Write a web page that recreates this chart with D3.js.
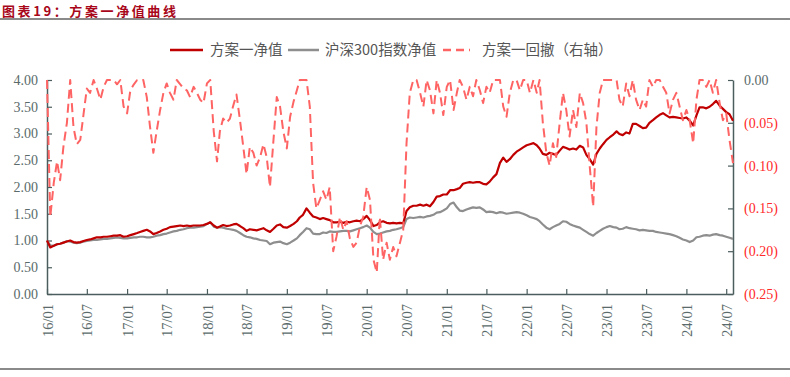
<!DOCTYPE html>
<html>
<head>
<meta charset="utf-8">
<script src="https://cdn.jsdelivr.net/npm/d3@7"></script>
<style>
  html, body { margin: 0; padding: 0; background: #fff; }
  svg { display: block; }
</style>
</head>
<body>
<svg id="chart"></svg>
<script>
// semi-monthly samples, 1st and 16th of each month, 2016/01/01 .. 2024/08/01
const navPlan = [
  1.00, 0.87, 0.90, 0.93, 0.94, 0.96, 0.98, 1.00, 0.97, 0.96, 0.97, 0.99,
  1.01, 1.02, 1.04, 1.06, 1.06, 1.07, 1.07, 1.08, 1.09, 1.09, 1.10, 1.07,
  1.08, 1.10, 1.12, 1.14, 1.16, 1.18, 1.20, 1.17, 1.12, 1.14, 1.17, 1.20,
  1.22, 1.25, 1.26, 1.27, 1.28, 1.27, 1.28, 1.27, 1.28, 1.28, 1.28, 1.29,
  1.31, 1.34, 1.28, 1.24, 1.26, 1.29, 1.27, 1.28, 1.30, 1.31, 1.27, 1.23,
  1.18, 1.21, 1.20, 1.19, 1.21, 1.23, 1.19, 1.16, 1.22, 1.28, 1.30, 1.25,
  1.24, 1.27, 1.31, 1.36, 1.43, 1.48, 1.60, 1.52, 1.45, 1.43, 1.40, 1.42,
  1.40, 1.38, 1.34, 1.34, 1.35, 1.33, 1.35, 1.34, 1.36, 1.37, 1.36, 1.40,
  1.46, 1.38, 1.27, 1.29, 1.34, 1.36, 1.33, 1.32, 1.33, 1.32, 1.33, 1.32,
  1.55, 1.62, 1.65, 1.65, 1.67, 1.65, 1.67, 1.64, 1.72, 1.82, 1.83, 1.86,
  1.86, 1.94, 1.94, 1.96, 1.98, 2.06, 2.08, 2.09, 2.08, 2.09, 2.09, 2.06,
  2.05, 2.10, 2.18, 2.24, 2.45, 2.55, 2.47, 2.52, 2.60, 2.66, 2.70, 2.74,
  2.78, 2.80, 2.82, 2.78, 2.72, 2.62, 2.60, 2.64, 2.62, 2.60, 2.68, 2.75,
  2.73, 2.70, 2.72, 2.70, 2.77, 2.74, 2.60, 2.52, 2.42, 2.62, 2.72, 2.80,
  2.88, 2.93, 2.98, 3.04, 2.99, 2.97, 3.02, 3.00, 3.18, 3.18, 3.14, 3.10,
  3.11, 3.20, 3.25, 3.30, 3.35, 3.38, 3.34, 3.30, 3.31, 3.30, 3.29, 3.28,
  3.30, 3.24, 3.15, 3.34, 3.49, 3.49, 3.47, 3.50, 3.55, 3.61, 3.52, 3.46,
  3.40, 3.36, 3.24
];

const navHs300 = [
  1.00, 0.91, 0.90, 0.93, 0.94, 0.96, 0.99, 0.98, 0.96, 0.95, 0.96, 0.98,
  0.99, 1.00, 1.01, 1.01, 1.02, 1.03, 1.03, 1.04, 1.05, 1.06, 1.05, 1.04,
  1.04, 1.05, 1.06, 1.06, 1.07, 1.07, 1.06, 1.06, 1.07, 1.09, 1.10, 1.12,
  1.13, 1.15, 1.17, 1.18, 1.20, 1.21, 1.23, 1.24, 1.24, 1.25, 1.26, 1.27,
  1.31, 1.34, 1.26, 1.24, 1.25, 1.24, 1.22, 1.21, 1.20, 1.18, 1.14, 1.10,
  1.07, 1.06, 1.04, 1.03, 1.01, 1.00, 0.99, 0.93, 0.96, 0.97, 0.98, 0.95,
  0.93, 0.96, 1.00, 1.04, 1.10, 1.16, 1.23, 1.21, 1.13, 1.12, 1.12, 1.15,
  1.14, 1.17, 1.16, 1.16, 1.17, 1.18, 1.18, 1.17, 1.19, 1.21, 1.23, 1.25,
  1.28, 1.24, 1.16, 1.12, 1.13, 1.15, 1.17, 1.18, 1.20, 1.21, 1.23, 1.25,
  1.40, 1.43, 1.42, 1.43, 1.44, 1.43, 1.45, 1.46, 1.48, 1.52, 1.53, 1.56,
  1.60, 1.68, 1.71, 1.62, 1.56, 1.55, 1.58, 1.60, 1.62, 1.61, 1.62, 1.58,
  1.53, 1.54, 1.53, 1.51, 1.53, 1.52, 1.50, 1.51, 1.52, 1.53, 1.52, 1.50,
  1.47, 1.44, 1.42, 1.40, 1.36, 1.30, 1.24, 1.21, 1.25, 1.28, 1.31, 1.36,
  1.35, 1.31, 1.28, 1.26, 1.24, 1.20, 1.16, 1.12, 1.09, 1.14, 1.18, 1.22,
  1.25, 1.27, 1.25, 1.24, 1.21, 1.22, 1.25, 1.23, 1.22, 1.21, 1.19, 1.20,
  1.19, 1.18, 1.18, 1.16, 1.15, 1.14, 1.13, 1.12, 1.10, 1.08, 1.05, 1.02,
  1.00, 0.97, 1.00, 1.06, 1.07, 1.09, 1.10, 1.09, 1.11, 1.12, 1.10, 1.09,
  1.07, 1.05, 1.03
];

const drawdown = [
  0, -0.16, -0.12, -0.095, -0.117, -0.078, -0.05, 0, -0.055, -0.075, -0.07, -0.04,
  -0.01, -0.015, 0, -0.01, -0.023, -0.008, 0, 0, 0, -0.005, 0, -0.031,
  -0.039, -0.012, -0.005, 0, 0, 0, -0.02, -0.055, -0.085, -0.06, -0.035, -0.015,
  -0.004, -0.015, -0.023, 0, -0.005, -0.01, -0.012, -0.02, -0.008, -0.015, -0.023, -0.027,
  -0.004, 0, -0.06, -0.095, -0.06, -0.045, -0.05, -0.045, -0.03, -0.017, -0.047, -0.078,
  -0.11, -0.078, -0.085, -0.1, -0.09, -0.075, -0.09, -0.125, -0.07, -0.02, -0.031, -0.06,
  -0.08, -0.043, -0.025, -0.012, 0, 0, 0, -0.031, -0.12, -0.15, -0.14, -0.13,
  -0.14, -0.125, -0.2, -0.183, -0.16, -0.175, -0.165, -0.185, -0.195, -0.19, -0.171, -0.16,
  -0.125, -0.14, -0.21, -0.225, -0.16, -0.21, -0.19, -0.21, -0.195, -0.206, -0.19, -0.175,
  -0.074, -0.015, 0, 0, -0.015, -0.031, 0, -0.012, -0.039, 0, -0.015, -0.041,
  -0.008, 0, -0.035, -0.015, 0, -0.008, -0.023, -0.008, -0.019, 0, -0.012, -0.027,
  -0.008, -0.015, 0, 0, 0, -0.031, -0.043, -0.015, 0, 0, -0.012, 0,
  0, -0.015, 0, -0.015, 0, -0.05, -0.085, -0.1, -0.074, -0.09, -0.05, -0.015,
  -0.035, -0.066, -0.035, -0.055, -0.015, -0.027, -0.05, -0.1, -0.148, -0.055, -0.015, 0,
  0, 0, 0, 0, -0.023, -0.031, -0.004, -0.019, 0, -0.023, -0.035, -0.023,
  -0.031, 0, -0.008, 0, 0, -0.008, -0.015, -0.039, -0.023, -0.015, -0.031, -0.047,
  -0.035, -0.047, -0.074, -0.023, 0, 0, -0.008, 0, -0.015, 0, -0.027, -0.047,
  -0.039, -0.07, -0.097
];

const leftTicks = [0, 0.5, 1, 1.5, 2, 2.5, 3, 3.5, 4];
const rightTicks = [0, -0.05, -0.10, -0.15, -0.20, -0.25];
const seriesNames = ['方案一净值', '沪深300指数净值', '方案一回撤（右轴）'];
const titleText = '图表19：方案一净值曲线';

// dates for the samples
const dates = navPlan.map((_, k) => new Date(2016 + Math.floor(k / 24), Math.floor((k % 24) / 2), k % 2 ? 16 : 1));
const xTicks = d3.range(2016, 2025).flatMap(y => [new Date(y, 0, 1), new Date(y, 6, 1)]).filter(d => d <= new Date(2024, 6, 1));

const width = 790, height = 377;
const plotLeft = 47, plotRight = 733, plotTop = 80, plotBottom = 294;
const axisColor = '#4b5d5d';
const labelColor = '#5b6b6b';
const serif = '"Liberation Serif", "DejaVu Serif", serif';
const cjk = '"Noto Sans CJK SC", sans-serif';

const svg = d3.select('#chart').attr('width', width).attr('height', height);

// title + rules
svg.append('text')
  .attr('x', 2).attr('y', 15.5)
  .attr('fill', '#a8071a')
  .attr('font-family', cjk)
  .attr('font-size', 13)
  .attr('font-weight', 'bold')
  .attr('letter-spacing', 2.6)
  .text(titleText);
svg.append('line').attr('x1', 0).attr('x2', width).attr('y1', 19).attr('y2', 19)
  .attr('stroke', '#8a8a8a').attr('stroke-width', 2);
svg.append('line').attr('x1', 0).attr('x2', width).attr('y1', 369).attr('y2', 369)
  .attr('stroke', '#8a8a8a').attr('stroke-width', 2);

const x = d3.scaleTime().domain([new Date(2016, 0, 1), new Date(2024, 7, 1)]).range([plotLeft, plotRight]);
const y = d3.scaleLinear().domain([0, 4]).range([plotBottom, plotTop]);
const y2 = d3.scaleLinear().domain([-0.25, 0]).range([plotBottom, plotTop]);

// axes
const leftAxis = svg.append('g').attr('transform', `translate(${plotLeft},0)`)
  .call(d3.axisLeft(y).tickValues(leftTicks).tickSize(-5).tickSizeOuter(0).tickPadding(9).tickFormat(d3.format('.2f')));
const rightAxis = svg.append('g').attr('transform', `translate(${plotRight},0)`)
  .call(d3.axisRight(y2).tickValues(rightTicks).tickSize(-5).tickSizeOuter(0).tickPadding(11)
    .tickFormat(d => d === 0 ? '0.00' : `(${d3.format('.2f')(-d)})`));
const bottomAxis = svg.append('g').attr('transform', `translate(0,${plotBottom})`)
  .call(d3.axisBottom(x).tickValues(xTicks).tickSize(-5).tickSizeOuter(0).tickFormat(d3.timeFormat('%y/%m')));

[leftAxis, rightAxis, bottomAxis].forEach(g => {
  g.select('.domain').attr('stroke', axisColor).attr('stroke-width', 1.5);
  g.selectAll('.tick line').attr('stroke', axisColor).attr('stroke-width', 1.2);
  g.selectAll('text').attr('font-family', serif).attr('font-size', 14).attr('fill', labelColor);
});
rightAxis.selectAll('text').attr('fill', d => d === 0 ? labelColor : '#ff2a2a');
bottomAxis.selectAll('.tick text')
  .attr('transform', 'rotate(-90)')
  .attr('text-anchor', 'end')
  .attr('x', -10).attr('y', 0).attr('dy', '0.35em')
  .attr('font-size', 14.5);

// lines
const lineLeft = vals => d3.line().x((d, i) => x(dates[i])).y(d => y(d))(vals);
const lineRight = vals => d3.line().x((d, i) => x(dates[i])).y(d => y2(d))(vals);

svg.append('path').attr('d', lineLeft(navHs300))
  .attr('fill', 'none').attr('stroke', '#8e8e8e').attr('stroke-width', 2.2).attr('stroke-linejoin', 'round');
svg.append('path').attr('d', lineLeft(navPlan))
  .attr('fill', 'none').attr('stroke', '#c00000').attr('stroke-width', 2.2).attr('stroke-linejoin', 'round');
svg.append('path').attr('d', lineRight(drawdown))
  .attr('fill', 'none').attr('stroke', '#ff6464').attr('stroke-width', 2)
  .attr('stroke-dasharray', '9 5').attr('stroke-linejoin', 'round');

// legend
const legendY = 50;
const legend = [
  { x1: 170, x2: 203, tx: 210, color: '#c00000', dash: null },
  { x1: 288, x2: 319, tx: 325, color: '#8e8e8e', dash: null },
  { x1: 443, x2: 470, tx: 482, color: '#ff6464', dash: '8 5' }
];
legend.forEach((l, i) => {
  svg.append('line')
    .attr('x1', l.x1).attr('x2', l.x2).attr('y1', legendY).attr('y2', legendY)
    .attr('stroke', l.color).attr('stroke-width', 2.5)
    .attr('stroke-dasharray', l.dash);
  svg.append('text')
    .attr('x', l.tx).attr('y', legendY + 5)
    .attr('fill', '#555')
    .attr('font-family', cjk)
    .attr('font-size', 14.5)
    .text(seriesNames[i]);
});
</script>
</body>
</html>
